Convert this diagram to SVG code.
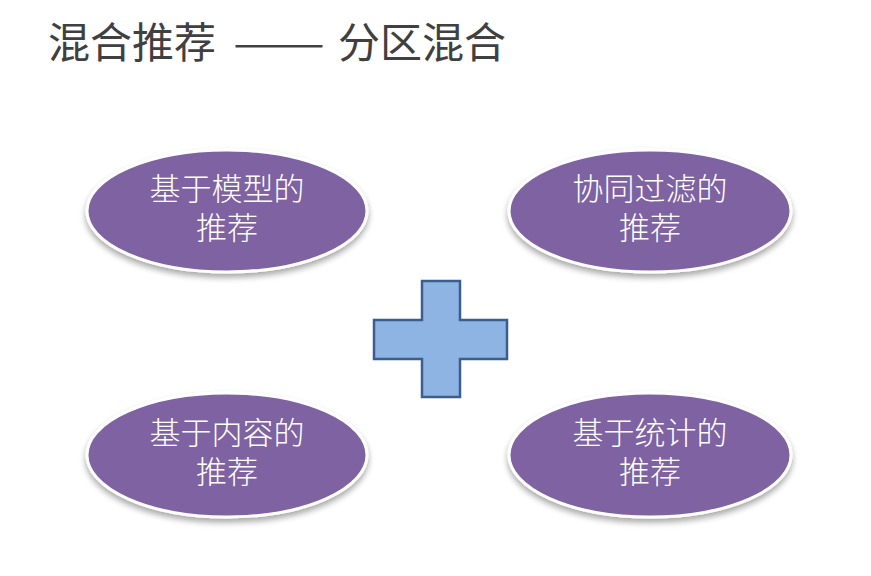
<svg xmlns="http://www.w3.org/2000/svg" width="871" height="576" viewBox="0 0 871 576">
<style>
.title{font-family:"Noto Sans CJK SC","Noto Sans",sans-serif;font-size:42px;fill:#404040}
.oval{fill:#7E62A1;stroke:#FFFFFF;stroke-width:3;filter:url(#sh)}
.lbl{font-family:"Noto Sans CJK SC","Noto Sans",sans-serif;font-size:31px;font-weight:300;fill:#FFFFFF;text-anchor:middle}
.plus{fill:#8EB4E3;stroke:#3B5E8C;stroke-width:2.5}
</style>
<defs>
<filter id="sh" x="-20%" y="-20%" width="140%" height="150%">
<feGaussianBlur in="SourceAlpha" stdDeviation="3"/>
<feOffset dx="0" dy="4" result="b"/>
<feComponentTransfer><feFuncA type="linear" slope="0.35"/></feComponentTransfer>
<feMerge><feMergeNode/><feMergeNode in="SourceGraphic"/></feMerge>
</filter>
</defs>
<rect width="871" height="576" fill="#FFFFFF"/>
<text class="title" y="58"><tspan x="48">混合推荐</tspan><tspan x="233" textLength="92" lengthAdjust="spacingAndGlyphs">——</tspan><tspan x="338">分区混合</tspan></text>
<g id="n1"><ellipse class="oval" cx="227" cy="211" rx="140" ry="61"/><text class="lbl" x="227" y="200">基于模型的</text><text class="lbl" x="227" y="239">推荐</text></g>
<g id="n2"><ellipse class="oval" cx="650" cy="211" rx="141" ry="61"/><text class="lbl" x="650" y="200">协同过滤的</text><text class="lbl" x="650" y="239">推荐</text></g>
<g id="n3"><ellipse class="oval" cx="227" cy="455" rx="140" ry="62"/><text class="lbl" x="227" y="444">基于内容的</text><text class="lbl" x="227" y="483">推荐</text></g>
<g id="n4"><ellipse class="oval" cx="650" cy="455" rx="141" ry="62"/><text class="lbl" x="650" y="444">基于统计的</text><text class="lbl" x="650" y="483">推荐</text></g>
<g id="plus"><path class="plus" d="M422,281 H460 V320 H507 V359 H460 V397 H422 V359 H374 V320 H422 Z"/></g>
</svg>
